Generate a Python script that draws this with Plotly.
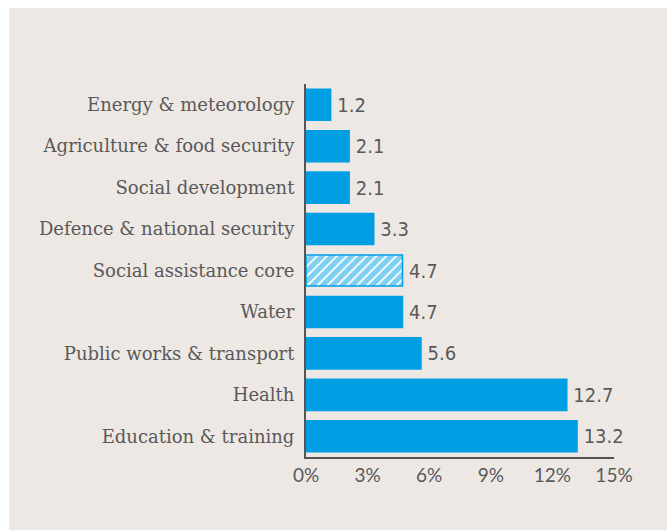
import plotly.graph_objects as go

# Budget share by sector (%), listed bottom to top
categories = [
    "Education & training",
    "Health",
    "Public works & transport",
    "Water",
    "Social assistance core",
    "Defence & national security",
    "Social development",
    "Agriculture & food security",
    "Energy & meteorology",
]
shares = [13.2, 12.7, 5.6, 4.7, 4.7, 3.3, 2.1, 2.1, 1.2]
hatched = "Social assistance core"

x_ticks = [0, 3, 6, 9, 12, 15]
x_tick_labels = ["0%", "3%", "6%", "9%", "12%", "15%"]

BLUE = "#009FE3"
TEXT = "#595959"
BG = "#EDE8E4"

W, H = 667, 530
ML, MR, MT, MB = 306, 53, 84, 73
PW, PH = W - ML - MR, H - MT - MB

pattern_shapes = ["/" if c == hatched else "" for c in categories]
pattern_bg = ["white" if c == hatched else BLUE for c in categories]

fig = go.Figure(
    go.Bar(
        x=shares,
        y=categories,
        orientation="h",
        marker=dict(
            color=BLUE,
            line=dict(color=BLUE, width=1.5),
            pattern=dict(
                shape=pattern_shapes,
                fgcolor=BLUE,
                bgcolor=pattern_bg,
                size=7,
                solidity=0.75,
            ),
        ),
        # thin space keeps the value a few pixels clear of the bar end
        text=[f"\u2009{v:.1f}" for v in shares],
        textposition="outside",
        textfont=dict(family="DejaVu Sans Condensed, Liberation Sans Narrow, sans-serif",
                      size=20, color=TEXT),
        cliponaxis=False,
        width=0.75,
        hoverinfo="skip",
    )
)

# beige panel behind the chart, leaving a thin white edge at top and left
fig.add_shape(
    type="rect", xref="paper", yref="paper", layer="below",
    x0=(9 - ML) / PW, x1=(W - ML) / PW,
    y0=-MB / PH, y1=(H - MB - 8) / PH,
    fillcolor=BG, line=dict(width=0),
)

fig.update_layout(
    width=W, height=H,
    margin=dict(l=ML, r=MR, t=MT, b=MB, pad=0),
    paper_bgcolor="white",
    plot_bgcolor=BG,
    showlegend=False,
    bargap=0.25,
)
fig.update_xaxes(
    range=[0, 15],
    tickvals=x_ticks,
    ticktext=x_tick_labels,
    showgrid=False,
    zeroline=False,
    showline=True,
    linecolor="#555555",
    linewidth=2,
    ticks="",
    tickfont=dict(family="Lato, sans-serif", size=19, color=TEXT),
)
fig.update_yaxes(
    categoryorder="array",
    categoryarray=categories,
    range=[-0.5, len(categories) - 0.5],
    showgrid=False,
    zeroline=False,
    showline=True,
    linecolor="#555555",
    linewidth=2,
    ticks="",
    ticklabelstandoff=6,
    tickfont=dict(family="DejaVu Serif, serif", size=18, color=TEXT),
)

fig.write_html("out.html")
